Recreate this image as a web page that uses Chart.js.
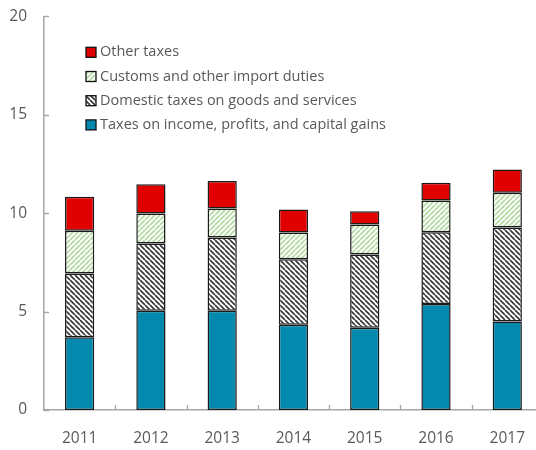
<!DOCTYPE html>
<html>
<head>
<meta charset="utf-8">
<script src="https://cdn.jsdelivr.net/npm/chart.js@4/dist/chart.umd.min.js"></script>
<style>
  html, body { margin: 0; padding: 0; background: #fff; overflow: hidden; width: 536px; height: 450px; }
  #wrap { width: 544px; height: 460px; position: absolute; left: 0; top: -10px; }
</style>
</head>
<body>
<div id="wrap"><canvas id="c"></canvas></div>
<script>
const years = ['2011', '2012', '2013', '2014', '2015', '2016', '2017'];
const incomeTaxes = [3.69, 5.04, 5.04, 4.33, 4.18, 5.38, 4.50];
const domesticTaxes = [3.25, 3.42, 3.72, 3.33, 3.72, 3.65, 4.77];
const customsDuties = [2.16, 1.52, 1.47, 1.36, 1.52, 1.61, 1.76];
const otherTaxes = [1.73, 1.49, 1.40, 1.17, 0.68, 0.91, 1.19];
const yTicks = [0, 5, 10, 15, 20];

const FONT = 'Open Sans';
const TXT = '#595959';
const AXIS = '#a6a6a6';

function hatch(bg, fg, dir, s, lw) {
  const c = document.createElement('canvas');
  c.width = s; c.height = s;
  const g = c.getContext('2d');
  g.fillStyle = bg; g.fillRect(0, 0, s, s);
  g.strokeStyle = fg; g.lineWidth = lw;
  g.beginPath();
  for (let k = -1; k <= 1; k++) {
    if (dir === '\\') { g.moveTo(k * s, 0); g.lineTo(k * s + s, s); }
    else { g.moveTo(k * s, s); g.lineTo(k * s + s, 0); }
  }
  g.stroke();
  return document.getElementById('c').getContext('2d').createPattern(c, 'repeat');
}

const blue = '#0489ae';
const red = '#e00000';
const domPat = hatch('#ffffff', '#3a3a3a', '\\', 5, 1.7);
const cusPat = hatch('#ffffff', '#b3d9a3', '/', 5, 1.8);

const legendPlugin = {
  id: 'insideLegend',
  afterDraw(chart) {
    const ctx = chart.ctx;
    const ca = chart.chartArea;
    const items = chart.data.datasets.slice().reverse();
    const x0 = ca.left + 42;
    let y = ca.top + 36;
    ctx.save();
    ctx.font = '14.5px "' + FONT + '"';
    ctx.textBaseline = 'middle';
    items.forEach(ds => {
      ctx.fillStyle = ds.backgroundColor;
      ctx.fillRect(x0, y - 5, 10, 10);
      ctx.strokeStyle = '#111';
      ctx.lineWidth = 1.3;
      ctx.strokeRect(x0, y - 5, 10, 10);
      ctx.fillStyle = TXT;
      ctx.fillText(ds.label, x0 + 14, y);
      y += 24.2;
    });
    ctx.restore();
  }
};

const tickPlugin = {
  id: 'innerTicks',
  afterDraw(chart) {
    const ctx = chart.ctx;
    const xs = chart.scales.x, ys = chart.scales.y;
    const ca = chart.chartArea;
    ctx.save();
    ctx.strokeStyle = AXIS;
    ctx.lineWidth = 1.3;
    ctx.beginPath();
    yTicks.forEach(v => {
      const py = Math.round(ys.getPixelForValue(v)) + 0.5;
      ctx.moveTo(ca.left, py); ctx.lineTo(ca.left + 5, py);
    });
    for (let i = 0; i < years.length - 1; i++) {
      const px = Math.round((xs.getPixelForValue(i) + xs.getPixelForValue(i + 1)) / 2) + 0.5;
      ctx.moveTo(px, ca.bottom); ctx.lineTo(px, ca.bottom - 5);
    }
    ctx.stroke();
    ctx.restore();
  }
};

const common = { borderColor: '#1a1a1a', borderWidth: 1.5, borderSkipped: false, categoryPercentage: 1, barPercentage: 0.41 };

new Chart(document.getElementById('c'), {
  type: 'bar',
  data: {
    labels: years,
    datasets: [
      Object.assign({ label: 'Taxes on income, profits, and capital gains', data: incomeTaxes, backgroundColor: blue }, common),
      Object.assign({ label: 'Domestic taxes on goods and services', data: domesticTaxes, backgroundColor: domPat }, common),
      Object.assign({ label: 'Customs and other import duties', data: customsDuties, backgroundColor: cusPat }, common),
      Object.assign({ label: 'Other taxes', data: otherTaxes, backgroundColor: red }, common)
    ]
  },
  options: {
    responsive: true,
    maintainAspectRatio: false,
    animation: false,
    layout: { padding: { top: 0, right: 0, left: 0, bottom: 0 } },
    plugins: { legend: { display: false }, tooltip: { enabled: false } },
    scales: {
      x: {
        stacked: true,
        offset: true,
        grid: { display: false, drawTicks: false },
        border: { display: true, color: AXIS, width: 1.5 },
        ticks: { color: TXT, font: { family: FONT, size: 15.5 }, padding: 19, maxRotation: 0 },
        afterFit(scale) { scale.height = 40; }
      },
      y: {
        stacked: true,
        min: 0, max: 20,
        afterBuildTicks(scale) { scale.ticks = yTicks.map(v => ({ value: v })); },
        afterFit(scale) { scale.width = 44; },
        grid: { display: false, drawTicks: false },
        border: { display: true, color: AXIS, width: 1.5 },
        ticks: { color: TXT, font: { family: FONT, size: 15.5 }, padding: 17 }
      }
    }
  },
  plugins: [legendPlugin, tickPlugin]
});
</script>
</body>
</html>
